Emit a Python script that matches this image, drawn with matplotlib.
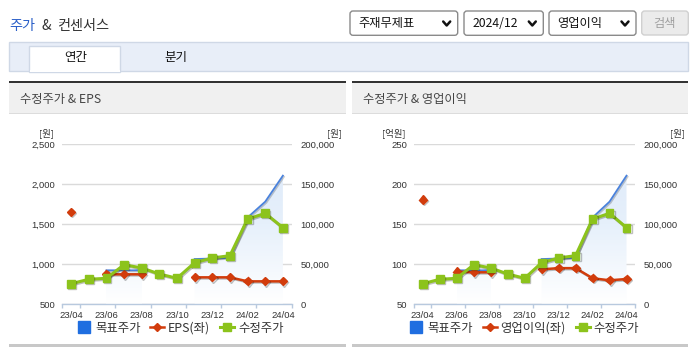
import numpy as np
import matplotlib
matplotlib.use('Agg')
import matplotlib.pyplot as plt
from matplotlib.patches import Rectangle, FancyBboxPatch
from matplotlib.lines import Line2D
from matplotlib.transforms import IdentityTransform
from matplotlib.ticker import FuncFormatter, FixedLocator
from matplotlib.colors import LinearSegmentedColormap
import matplotlib.patheffects as pe

plt.rcParams['font.family'] = ['Noto Sans CJK KR', 'DejaVu Sans']

# ---------------- data ----------------
months = ['23/04', '23/05', '23/06', '23/07', '23/08', '23/09', '23/10',
          '23/11', '23/12', '24/01', '24/02', '24/03', '24/04']
xtick_labels = ['23/04', '23/06', '23/08', '23/10', '23/12', '24/02', '24/04']
nan = np.nan
target_price = [nan, nan, 42500, 42500, 42500, nan, nan,
                56600, 57200, 58300, 108500, 128300, 160800]
adj_price = [25750, 31250, 32500, 49500, 45400, 37900, 32500,
             52000, 57900, 60800, 106600, 113700, 95800]
eps = [1657, nan, 875, 875, 875, nan, nan, 837, 837, 837, 787, 787, 787]
op_income = [181, nan, 91, 90, 90, nan, nan, 93.7, 95.2, 95.2, 82.6, 80, 81.6]

eps_ticks = [500, 1000, 1500, 2000, 2500]
op_ticks = [50, 100, 150, 200, 250]
price_ticks = [0, 50000, 100000, 150000, 200000]

# ---------------- colours ----------------
C_BLUE = '#4a82dc'
C_BLUE_LEG = '#1f6ee0'
C_RED = '#d23c0c'
C_GREEN = '#8cc31c'
C_AXIS = '#b8c9de'
C_GRID = '#dadada'
C_TEXT = '#333333'

W, H = 695, 349
fig = plt.figure(figsize=(W / 100, H / 100), dpi=100)
ID = IdentityTransform()


def fx(x):
    return x / W


def fy(y):
    return 1 - y / H


def rect(x0, y0, x1, y1, **kw):
    fig.add_artist(Rectangle((x0, H - y1), x1 - x0, y1 - y0, transform=ID, **kw))


def rbox(x0, y0, x1, y1, r=3, **kw):
    fig.add_artist(FancyBboxPatch((x0, H - y1), x1 - x0, y1 - y0,
                                  boxstyle=f'round,pad=0,rounding_size={r}',
                                  transform=ID, **kw))


def txt(x, y, s, **kw):
    kw.setdefault('color', C_TEXT)
    kw.setdefault('va', 'center')
    fig.text(fx(x), fy(y), s, **kw)


# ---------------- header ----------------
txt(9.3, 26, '주가', fontsize=10.2, color='#2a5fc8')
txt(41.5, 26, '&', fontsize=10.2)
txt(57.3, 26, '컨센서스', fontsize=10.2)

# dropdowns
for (x0, x1, label) in [(350, 457.7, '주재무제표'), (464, 543.3, '2024/12'), (549, 636, '영업이익')]:
    rbox(x0, 11, x1, 35.3, r=3, facecolor='white', edgecolor='#8a8a8a', lw=1)
    txt(x0 + 8.5, 23.5, label, fontsize=8.8, color='#111111')
    cx = x1 - 11
    fig.add_artist(Line2D([cx - 3.5, cx, cx + 3.5], [H - 21.5, H - 25.5, H - 21.5],
                          transform=ID, color='#111111', lw=1.8, solid_capstyle='round'))
rbox(641.7, 11, 688.3, 35, r=3, facecolor='#ebebeb', edgecolor='#d0d0d0', lw=1)
txt(665, 23.5, '검색', fontsize=8.8, color='#a0a0a0', ha='center')

# tab bar
rect(9, 41.7, 688.3, 70.7, facecolor='#e8eef8', edgecolor='#cfd8e6', lw=1)
rect(29.3, 46, 120.3, 71.5, facecolor='white', edgecolor='#cfd8e6', lw=1)
rect(30, 69.5, 119.6, 72, facecolor='white', edgecolor='none')
txt(75.3, 57.5, '연간', fontsize=9, ha='center', color='#111111')
txt(175.8, 57.5, '분기', fontsize=9, ha='center', color='#111111')

# panels
for (x0, x1, title) in [(9, 346, '수정주가 & EPS'), (352.3, 688.3, '수정주가 & 영업이익')]:
    rect(x0, 83, x1, 113, facecolor='#f0f0f0', edgecolor='none')
    rect(x0, 81, x1, 83.3, facecolor='#333333', edgecolor='none')
    rect(x0, 112.6, x1, 113.8, facecolor='#dcdcdc', edgecolor='none')
    rect(x0, 343.8, x1, 346.5, facecolor='#c8c8c8', edgecolor='none')
    txt(x0 + 11, 99.3, title, fontsize=8.8, color='#444444')

grad_cmap = LinearSegmentedColormap.from_list('g', ['#ffffff', '#e6f0fb', '#dde9f9'])

fmt = FuncFormatter(lambda v, p: f'{int(v):,}')
tick_font = dict(family=['Liberation Sans', 'DejaVu Sans'], size=6.8)


def make_chart(lx, rx, left_vals, left_ticks, left_unit, left_label, left_unit_x, right_unit_x,
               legend_cx):
    top, bot = 144.3, 304.3
    x = np.arange(len(months))
    ax = fig.add_axes([fx(lx), fy(bot), (rx - lx) / W, (bot - top) / H])
    axr = ax.twinx()
    axg = ax.twinx()
    for a in (ax, axr, axg):
        for s in a.spines.values():
            s.set_visible(False)
        a.set_xlim(-0.5, len(months) - 0.5)
    ax.spines['bottom'].set_visible(True)
    ax.spines['bottom'].set_color(C_AXIS)
    ax.spines['bottom'].set_linewidth(1)

    # price axis (right side)
    ax.set_ylim(price_ticks[0], price_ticks[-1])
    ax.yaxis.set_major_locator(FixedLocator(price_ticks))
    ax.yaxis.set_major_formatter(fmt)
    ax.grid(axis='y', color=C_GRID, lw=1)
    ax.set_axisbelow(True)

    # gradient fill under target price
    tp = np.array(target_price, dtype=float)
    valid = ~np.isnan(tp)
    idx = np.where(valid)[0]
    segs = np.split(idx, np.where(np.diff(idx) > 1)[0] + 1)
    grad = np.linspace(0, 1, 256).reshape(-1, 1)
    for seg in segs:
        coll = ax.fill_between(x[seg], tp[seg], 0, facecolor='none', edgecolor='none')
        path = coll.get_paths()[0]
        im = ax.imshow(grad, cmap=grad_cmap, origin='lower', aspect='auto',
                       extent=[-0.5, len(months) - 0.5, price_ticks[0], price_ticks[-1]],
                       interpolation='bilinear', zorder=1)
        im.set_clip_path(path, ax.transData)
    ax.plot(x, tp, color=C_BLUE, lw=1.3, zorder=2,
            path_effects=[pe.SimpleLineShadow(offset=(0.8, -0.8), alpha=0.2), pe.Normal()])
    ax.set_xlim(-0.5, len(months) - 0.5)
    ax.set_ylim(price_ticks[0], price_ticks[-1])

    # left-axis series
    axr.plot(x, left_vals, color=C_RED, lw=1.8, marker='D', ms=4.2,
             path_effects=[pe.SimpleLineShadow(offset=(0.8, -0.8), alpha=0.25), pe.Normal()])
    axr.set_ylim(left_ticks[0], left_ticks[-1])
    axr.yaxis.set_major_locator(FixedLocator(left_ticks))
    axr.yaxis.set_major_formatter(fmt)

    # adjusted price
    axg.plot(x, adj_price, color=C_GREEN, lw=2.2, marker='s', ms=5.6,
             path_effects=[pe.SimpleLineShadow(offset=(0.8, -0.8), alpha=0.25), pe.Normal()])
    axg.set_ylim(price_ticks[0], price_ticks[-1])
    axg.set_yticks([])

    # axis sides (after twinx)
    ax.yaxis.tick_right()
    axr.yaxis.tick_left()
    ax.tick_params(axis='y', length=0, pad=6.2, labelcolor=C_TEXT)
    axr.tick_params(axis='y', length=0, pad=5.2, labelcolor=C_TEXT)

    # x ticks
    ax.set_xticks([-0.5, 0.5, 2.5, 4.5, 6.5, 8.5, 10.5, 12.5])
    ax.set_xticklabels([])
    ax.set_xticks(np.arange(0, len(months), 2), minor=True)
    ax.set_xticklabels(xtick_labels, minor=True)
    ax.tick_params(axis='x', which='major', length=3.2, color=C_AXIS, width=1)
    ax.tick_params(axis='x', which='minor', length=0, pad=4.6, labelcolor=C_TEXT)
    for lab in ax.get_xticklabels(minor=True) + ax.get_yticklabels() + axr.get_yticklabels():
        lab.set_fontproperties(dict(tick_font))

    # units
    txt(left_unit_x, 133.3, left_unit, fontsize=6.8, ha='right')
    txt(right_unit_x, 133.3, '[원]', fontsize=6.8, ha='right')

    # legend
    handles = [Line2D([], [], ls='none', marker='s', ms=8.6, color=C_BLUE_LEG),
               Line2D([], [], color=C_RED, lw=1.8, marker='D', ms=4.2),
               Line2D([], [], color=C_GREEN, lw=2.2, marker='s', ms=5.6)]
    labels = ['목표주가', left_label, '수정주가']
    fig.legend(handles, labels, loc='center', bbox_to_anchor=(fx(legend_cx), fy(328.3)),
               bbox_transform=fig.transFigure, ncol=3, frameon=False, fontsize=8.9,
               handlelength=1.15, handletextpad=0.3, columnspacing=0.8, borderpad=0,
               labelcolor=C_TEXT)


make_chart(62.3, 291.7, eps, eps_ticks, '[원]', 'EPS(좌)', 53.5, 341.7, 180.3)
make_chart(414.3, 635.0, op_income, op_ticks, '[억원]', '영업이익(좌)', 405.5, 685.0, 524.2)

fig.savefig('out.png', dpi=100)
